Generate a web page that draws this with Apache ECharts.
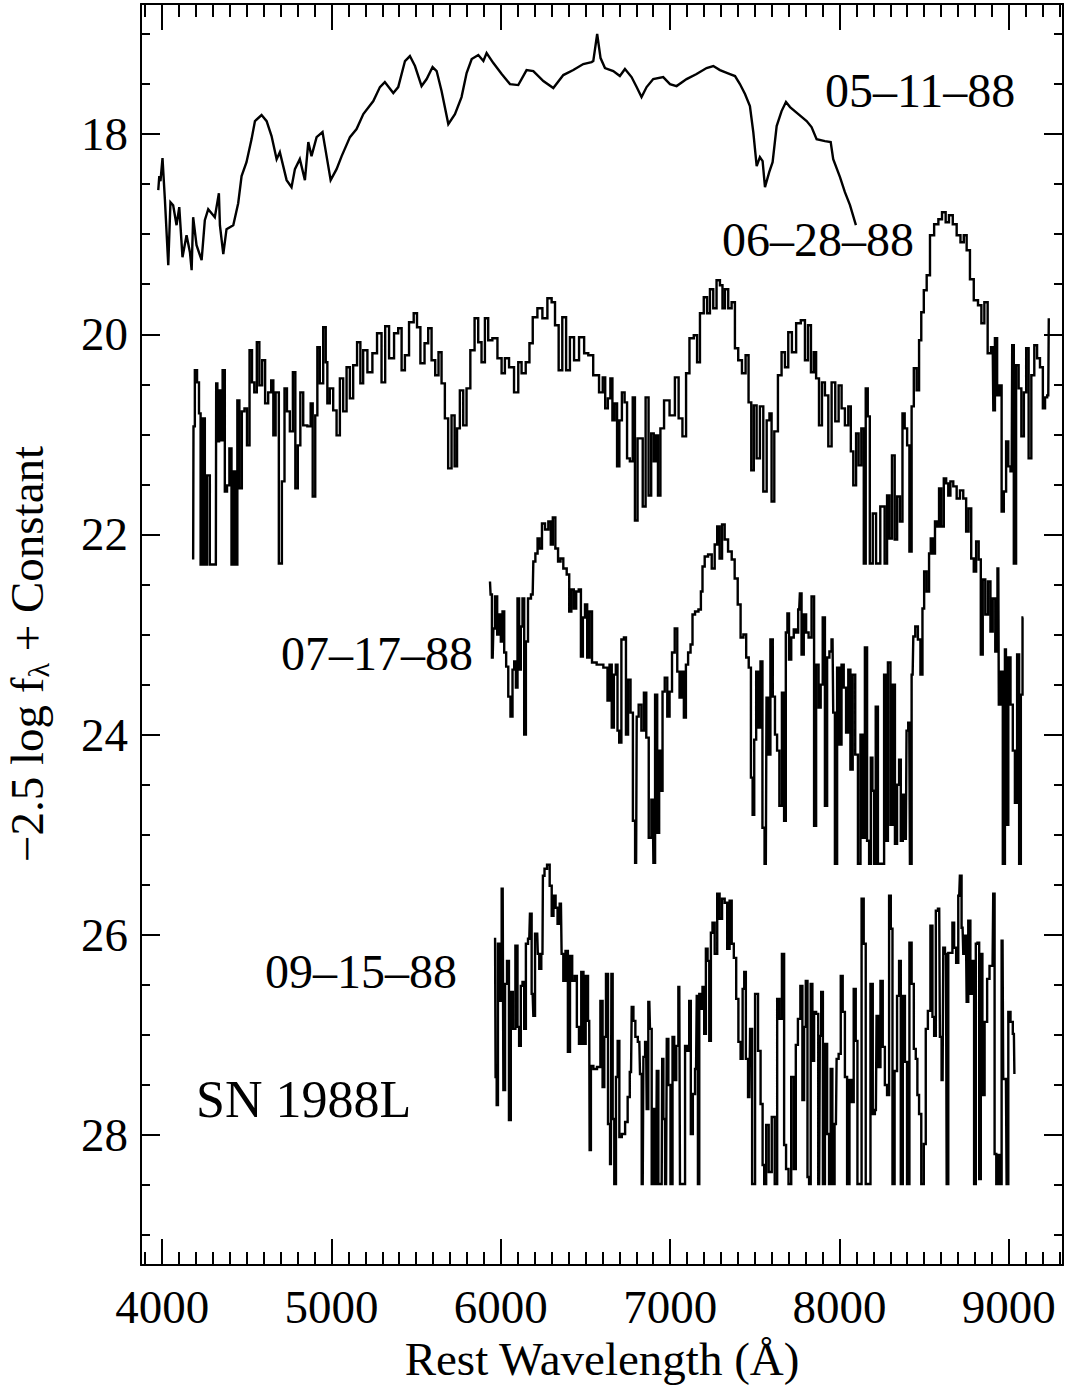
<!DOCTYPE html>
<html>
<head>
<meta charset="utf-8">
<script src="https://cdn.jsdelivr.net/npm/echarts@6/dist/echarts.min.js"></script>
<style>
html,body{margin:0;padding:0;background:#fff;}
#chart{width:1067px;height:1387px;}
</style>
</head>
<body>
<div id="chart"></div>
<script>
// ---------------- DATA (wavelength in Angstrom, magnitude) ----------------
const spec051188 = [[3977,18.56],[3983,18.42],[3990,18.47],[4002,18.24],[4016,18.65],[4036,19.31],[4049,18.68],[4065,18.71],[4085,18.91],[4101,18.73],[4120,19.23],[4144,19.01],[4164,19.18],[4174,19.36],[4183,18.83],[4203,19.11],[4233,19.26],[4252,18.86],[4272,18.75],[4311,18.83],[4335,18.59],[4341,18.91],[4361,19.20],[4380,18.95],[4420,18.91],[4449,18.69],[4469,18.42],[4498,18.28],[4528,18.05],[4548,17.87],[4587,17.81],[4617,17.87],[4646,18.02],[4676,18.25],[4695,18.18],[4735,18.46],[4764,18.53],[4784,18.35],[4813,18.25],[4843,18.46],[4863,18.08],[4882,18.22],[4912,18.03],[4947,17.98],[4961,18.12],[4995,18.46],[5030,18.35],[5060,18.22],[5109,18.03],[5148,17.95],[5188,17.80],[5247,17.67],[5286,17.53],[5315,17.48],[5365,17.59],[5394,17.53],[5434,17.27],[5463,17.22],[5493,17.32],[5532,17.52],[5562,17.45],[5597,17.33],[5621,17.37],[5650,17.57],[5690,17.90],[5729,17.80],[5768,17.63],[5798,17.39],[5828,17.25],[5867,17.21],[5897,17.27],[5916,17.19],[5956,17.29],[6005,17.40],[6054,17.50],[6103,17.51],[6152,17.36],[6192,17.37],[6251,17.47],[6310,17.54],[6369,17.41],[6428,17.36],[6487,17.30],[6536,17.28],[6546,17.27],[6569,17.00],[6589,17.24],[6615,17.34],[6664,17.37],[6703,17.42],[6733,17.35],[6772,17.43],[6802,17.53],[6831,17.63],[6861,17.53],[6900,17.45],[6959,17.43],[6999,17.50],[7038,17.52],[7097,17.45],[7156,17.40],[7215,17.34],[7255,17.32],[7294,17.36],[7353,17.40],[7383,17.42],[7412,17.50],[7442,17.60],[7471,17.72],[7491,17.98],[7511,18.32],[7530,18.23],[7546,18.27],[7560,18.53],[7585,18.38],[7605,18.28],[7629,17.92],[7658,17.77],[7684,17.68],[7708,17.73],[7757,17.80],[7806,17.87],[7835,17.93],[7865,18.05],[7914,18.07],[7948,18.08],[7963,18.25],[8003,18.43],[8032,18.58],[8062,18.71],[8097,18.91]];

const spec062888 = [[4183,22.25],[4187,20.92],[4199,20.36],[4213,20.48],[4222,20.79],[4232,22.30],[4246,20.84],[4258,22.30],[4272,21.41],[4291,22.30],[4317,22.30],[4321,20.49],[4331,21.07],[4341,20.56],[4350,21.06],[4364,20.36],[4376,21.57],[4390,21.51],[4404,21.14],[4415,22.30],[4429,21.37],[4439,22.30],[4449,20.66],[4463,21.54],[4478,20.77],[4494,20.74],[4508,21.11],[4524,20.16],[4537,20.48],[4551,20.58],[4567,20.08],[4581,20.51],[4600,20.26],[4616,20.69],[4636,20.58],[4652,20.46],[4661,21.01],[4679,20.58],[4699,22.29],[4715,21.47],[4730,20.54],[4744,20.77],[4764,20.97],[4780,20.38],[4793,21.54],[4809,21.11],[4823,20.58],[4843,20.91],[4872,20.92],[4882,20.69],[4896,21.62],[4912,20.81],[4921,20.13],[4941,20.49],[4961,19.93],[4971,20.28],[4980,20.69],[5000,20.54],[5020,20.76],[5040,21.01],[5059,20.44],[5079,20.77],[5099,20.33],[5118,20.64],[5138,20.31],[5164,20.08],[5177,20.49],[5197,20.16],[5227,20.38],[5256,20.19],[5282,19.99],[5309,20.48],[5325,19.92],[5355,20.24],[5384,19.99],[5404,19.94],[5424,20.36],[5443,20.21],[5473,19.88],[5498,19.79],[5512,19.93],[5538,20.29],[5561,20.09],[5581,19.94],[5601,20.26],[5624,20.41],[5640,20.18],[5660,20.49],[5679,20.84],[5699,21.34],[5719,20.81],[5735,21.32],[5748,20.94],[5768,20.56],[5788,20.91],[5807,20.54],[5833,20.16],[5857,19.84],[5876,20.08],[5896,20.28],[5916,19.84],[5935,20.06],[5965,20.04],[5995,20.24],[6014,20.39],[6034,20.24],[6063,20.33],[6093,20.58],[6113,20.28],[6132,20.39],[6162,20.28],[6176,20.09],[6201,19.83],[6231,19.74],[6260,19.84],[6290,19.64],[6310,19.68],[6330,19.91],[6353,20.36],[6373,19.83],[6398,20.36],[6418,20.03],[6447,20.26],[6477,20.03],[6507,20.19],[6526,20.21],[6565,20.41],[6595,20.58],[6609,20.43],[6624,20.74],[6640,20.64],[6654,20.44],[6664,20.86],[6680,20.69],[6693,21.32],[6707,20.86],[6723,20.58],[6739,20.68],[6752,21.24],[6772,21.27],[6786,20.63],[6798,21.86],[6817,21.04],[6831,21.04],[6845,21.72],[6865,20.63],[6880,21.61],[6896,20.99],[6910,21.27],[6920,21.01],[6936,21.61],[6949,20.94],[6979,20.66],[7014,20.81],[7042,20.43],[7058,20.84],[7087,21.02],[7101,20.39],[7127,20.04],[7152,20.01],[7166,20.28],[7186,19.79],[7211,19.63],[7225,19.79],[7245,19.55],[7264,19.74],[7284,19.46],[7304,19.51],[7314,19.74],[7333,19.55],[7353,19.74],[7373,19.68],[7392,20.14],[7412,20.26],[7436,20.39],[7455,20.21],[7471,20.68],[7487,21.36],[7501,20.71],[7520,21.24],[7540,20.72],[7560,21.57],[7580,20.86],[7593,20.79],[7605,21.67],[7625,20.97],[7648,20.41],[7668,20.18],[7688,20.33],[7707,19.98],[7731,20.18],[7757,19.89],[7786,19.86],[7806,20.26],[7822,19.91],[7841,20.38],[7855,20.18],[7869,20.44],[7889,20.91],[7904,20.48],[7924,20.61],[7944,21.12],[7963,20.48],[7987,20.87],[8003,20.51],[8022,20.74],[8042,20.91],[8062,20.72],[8072,21.17],[8091,21.51],[8105,20.99],[8121,21.31],[8137,20.94],[8150,22.29],[8160,20.54],[8174,20.82],[8184,22.29],[8209,21.79],[8223,22.29],[8259,21.72],[8274,22.29],[8288,21.61],[8302,22.04],[8318,21.21],[8334,22.05],[8347,21.62],[8367,21.87],[8377,20.79],[8393,20.94],[8406,21.11],[8420,22.17],[8432,20.72],[8446,20.34],[8465,20.56],[8475,20.06],[8491,19.78],[8505,19.56],[8525,19.41],[8544,19.01],[8574,18.90],[8594,18.85],[8617,18.78],[8637,18.88],[8656,18.81],[8682,18.90],[8702,19.01],[8727,19.08],[8741,19.01],[8761,19.16],[8780,19.45],[8806,19.66],[8830,19.71],[8846,19.89],[8865,19.68],[8885,20.19],[8905,20.13],[8912,20.76],[8924,20.04],[8938,20.61],[8951,20.51],[8964,21.77],[8977,21.57],[8991,21.07],[9003,21.32],[9017,21.37],[9023,20.11],[9036,22.29],[9050,20.31],[9066,20.54],[9082,21.02],[9096,20.58],[9109,20.14],[9125,21.24],[9141,20.41],[9160,20.11],[9174,20.24],[9194,20.33],[9208,20.74],[9220,20.63],[9233,20.61],[9239,19.84]];

const spec071788 = [[5936,22.47],[5943,22.60],[5952,23.23],[5960,22.94],[5972,22.62],[5985,23.00],[5995,22.80],[6005,23.07],[6015,22.77],[6025,23.18],[6038,23.32],[6050,23.62],[6064,23.82],[6074,23.35],[6084,23.27],[6094,23.53],[6103,22.64],[6113,23.35],[6123,22.92],[6133,22.64],[6143,24.00],[6153,23.07],[6168,22.64],[6188,22.60],[6196,22.27],[6212,22.19],[6222,22.04],[6235,22.14],[6251,21.89],[6271,21.95],[6290,21.87],[6300,22.10],[6314,21.83],[6330,22.14],[6346,22.27],[6359,22.24],[6379,22.34],[6399,22.40],[6409,22.77],[6424,22.55],[6438,22.74],[6452,22.57],[6468,22.55],[6478,23.22],[6491,22.83],[6503,22.70],[6517,23.23],[6531,22.77],[6546,23.28],[6586,23.30],[6625,23.33],[6635,23.66],[6649,23.30],[6661,23.93],[6674,23.40],[6684,23.30],[6694,23.96],[6704,24.08],[6720,23.05],[6734,23.03],[6744,24.00],[6759,23.45],[6773,23.78],[6787,24.86],[6799,25.28],[6806,23.82],[6822,23.70],[6838,23.96],[6852,23.58],[6866,24.03],[6881,25.03],[6897,24.65],[6905,25.28],[6917,23.60],[6930,24.98],[6940,24.16],[6950,24.56],[6960,23.57],[6976,23.43],[6990,23.82],[7003,23.57],[7019,23.18],[7035,22.94],[7049,23.37],[7062,23.63],[7074,23.37],[7088,23.83],[7098,23.30],[7114,23.18],[7127,23.10],[7137,22.80],[7157,22.77],[7177,22.75],[7186,22.57],[7196,22.32],[7212,22.22],[7236,22.20],[7255,22.34],[7271,22.10],[7285,21.92],[7299,22.24],[7314,21.90],[7330,22.05],[7354,22.17],[7373,22.25],[7389,22.44],[7409,22.70],[7423,23.03],[7442,23.00],[7456,23.23],[7472,23.33],[7482,24.43],[7492,24.80],[7501,24.05],[7515,23.37],[7527,23.93],[7540,23.27],[7550,24.93],[7565,25.29],[7573,23.63],[7585,24.20],[7599,23.05],[7613,23.62],[7625,24.00],[7638,24.16],[7652,24.71],[7668,23.58],[7678,24.86],[7688,22.98],[7697,22.79],[7707,23.25],[7723,23.03],[7737,22.95],[7750,22.98],[7762,22.75],[7770,22.59],[7782,23.20],[7796,22.80],[7810,22.98],[7825,23.03],[7845,22.62],[7855,24.91],[7869,23.30],[7884,23.73],[7894,23.50],[7908,22.83],[7920,24.71],[7934,23.23],[7947,23.17],[7959,23.05],[7967,23.78],[7979,25.29],[7993,23.33],[8006,24.10],[8018,23.30],[8032,23.53],[8046,23.98],[8058,23.35],[8071,24.35],[8085,23.40],[8101,24.20],[8117,25.29],[8131,24.00],[8144,25.03],[8156,23.13],[8170,25.06],[8180,25.29],[8190,24.23],[8199,24.56],[8209,25.29],[8219,23.72],[8235,25.29],[8259,25.29],[8268,23.40],[8278,25.06],[8294,23.28],[8308,24.90],[8322,23.50],[8333,25.09],[8347,24.50],[8357,24.25],[8367,25.06],[8381,24.60],[8392,25.04],[8400,23.96],[8412,23.88],[8420,25.29],[8432,23.40],[8440,23.02],[8455,22.92],[8471,23.05],[8485,23.40],[8495,22.74],[8505,22.37],[8524,22.57],[8534,22.19],[8544,22.04],[8558,22.19],[8570,21.87],[8583,21.92],[8593,21.54],[8609,21.92],[8623,21.44],[8637,21.49],[8648,21.61],[8662,21.47],[8682,21.52],[8702,21.64],[8721,21.56],[8741,21.64],[8755,21.97],[8770,21.74],[8786,22.24],[8800,22.37],[8814,22.07],[8830,22.25],[8839,23.20],[8853,22.45],[8869,22.80],[8885,22.47],[8898,22.97],[8912,22.64],[8928,23.17],[8938,22.34],[8944,23.70],[8958,23.37],[8971,25.29],[8983,23.15],[8991,24.90],[9003,23.23],[9017,23.70],[9030,24.16],[9042,24.68],[9056,23.20],[9066,25.29],[9076,23.60],[9086,22.83]];

const spec091588 = [[5966,26.03],[5972,27.42],[5979,27.70],[5987,26.09],[5999,26.66],[6011,25.54],[6019,27.55],[6031,26.49],[6042,26.26],[6054,27.85],[6064,26.57],[6078,26.94],[6094,26.11],[6103,26.92],[6113,27.11],[6123,26.51],[6133,26.47],[6143,26.94],[6153,26.09],[6168,26.04],[6176,25.79],[6188,26.59],[6196,26.81],[6208,25.99],[6215,25.99],[6222,26.19],[6232,26.34],[6246,26.19],[6251,25.41],[6265,25.34],[6281,25.30],[6296,25.51],[6305,25.81],[6317,25.61],[6330,25.73],[6340,25.89],[6355,25.69],[6363,26.19],[6375,26.46],[6389,26.16],[6403,27.17],[6414,26.21],[6429,26.46],[6443,26.41],[6455,26.92],[6468,27.09],[6482,26.37],[6494,27.09],[6508,26.41],[6522,26.86],[6527,28.15],[6537,27.31],[6556,27.34],[6580,27.32],[6596,26.66],[6606,27.52],[6616,27.02],[6626,26.39],[6640,27.89],[6650,28.29],[6656,26.39],[6665,27.84],[6675,28.49],[6685,27.42],[6695,27.06],[6705,28.02],[6724,27.99],[6744,27.87],[6754,27.62],[6769,27.37],[6777,26.72],[6789,26.86],[6800,27.02],[6818,27.07],[6826,27.39],[6838,28.49],[6846,27.22],[6858,27.07],[6865,27.74],[6877,26.67],[6885,26.94],[6897,28.49],[6905,27.74],[6917,28.49],[6925,27.36],[6936,28.49],[6950,28.49],[6956,27.24],[6964,27.84],[6976,28.49],[6984,27.04],[6995,27.50],[7009,28.49],[7019,27.02],[7029,27.45],[7043,27.11],[7054,26.52],[7062,28.49],[7082,28.49],[7094,27.11],[7108,27.16],[7117,26.66],[7127,27.99],[7141,27.59],[7153,27.34],[7161,26.61],[7167,28.49],[7177,26.59],[7186,26.74],[7196,26.52],[7206,26.99],[7216,26.14],[7226,26.26],[7236,27.06],[7245,25.98],[7255,25.88],[7271,26.19],[7285,25.59],[7299,25.84],[7314,25.64],[7330,25.68],[7344,26.14],[7358,25.66],[7369,26.09],[7383,26.23],[7397,26.64],[7409,27.07],[7423,27.24],[7433,26.54],[7442,26.37],[7452,27.24],[7468,27.62],[7476,26.94],[7492,28.49],[7511,26.59],[7527,27.16],[7541,27.69],[7551,28.30],[7560,28.49],[7574,27.90],[7590,28.37],[7610,27.82],[7625,28.49],[7639,26.64],[7652,26.84],[7668,26.19],[7678,28.10],[7691,28.34],[7707,28.49],[7723,27.42],[7737,28.34],[7747,27.10],[7762,26.84],[7776,26.51],[7786,27.65],[7796,26.92],[7806,26.46],[7816,28.42],[7825,28.49],[7835,26.49],[7845,27.26],[7855,26.77],[7869,26.79],[7880,28.49],[7888,27.01],[7896,26.57],[7908,28.49],[7920,27.09],[7934,27.99],[7943,28.49],[7953,27.34],[7963,28.49],[7979,27.89],[7987,27.24],[8003,27.19],[8012,26.41],[8026,26.77],[8038,27.42],[8052,28.49],[8066,27.45],[8077,27.67],[8091,26.54],[8101,27.06],[8111,28.49],[8125,28.49],[8136,25.64],[8150,26.09],[8160,28.49],[8176,28.49],[8190,26.49],[8203,27.79],[8215,27.75],[8223,26.81],[8235,27.32],[8249,26.46],[8262,27.12],[8274,27.50],[8288,27.60],[8298,25.61],[8308,25.94],[8318,28.49],[8333,27.36],[8347,26.61],[8357,26.26],[8367,28.49],[8381,26.61],[8392,27.27],[8406,28.49],[8420,26.08],[8432,26.49],[8446,27.14],[8455,27.24],[8465,27.60],[8475,27.79],[8491,28.49],[8505,28.09],[8514,26.94],[8530,26.76],[8544,25.91],[8554,26.82],[8564,27.01],[8574,25.76],[8589,25.74],[8597,27.02],[8609,27.45],[8617,26.13],[8629,26.19],[8637,28.49],[8648,26.18],[8662,26.18],[8672,25.88],[8682,26.13],[8696,26.28],[8707,25.61],[8715,25.41],[8727,25.93],[8735,26.19],[8747,26.01],[8755,26.67],[8766,25.86],[8780,26.59],[8790,26.26],[8800,28.49],[8810,26.09],[8820,26.08],[8830,28.44],[8839,26.19],[8849,27.60],[8865,26.87],[8879,26.44],[8893,26.31],[8904,26.31],[8912,25.59],[8920,28.19],[8932,28.49],[8944,28.20],[8952,28.49],[8963,26.06],[8971,27.44],[8983,27.44],[8991,28.49],[9003,26.77],[9017,26.87],[9030,26.99],[9036,27.39]];

// ---------------- AXES / TICKS ----------------
const xRange = [3875, 9320];
const yRange = [16.7, 29.3];
const xMajorTicks = [4000, 5000, 6000, 7000, 8000, 9000];
const xMinorTicks = [3900,4000,4100,4200,4300,4400,4500,4600,4700,4800,4900,5000,5100,5200,5300,5400,5500,5600,5700,5800,5900,6000,6100,6200,6300,6400,6500,6600,6700,6800,6900,7000,7100,7200,7300,7400,7500,7600,7700,7800,7900,8000,8100,8200,8300,8400,8500,8600,8700,8800,8900,9000,9100,9200,9300];
const yMajorTicks = [18, 20, 22, 24, 26, 28];
const yMinorTicks = [17,17.5,18,18.5,19,19.5,20,20.5,21,21.5,22,22.5,23,23.5,24,24.5,25,25.5,26,26.5,27,27.5,28,28.5,29];

const spectrumLabels = ['05–11–88', '06–28–88', '07–17–88', '09–15–88'];
const objectLabel = 'SN 1988L';
const xTitle = 'Rest Wavelength (Å)';

// ---------------- CHART ----------------
const FONT = '"Liberation Serif", "Times New Roman", serif';
const chart = echarts.init(document.getElementById('chart'), null, {renderer: 'svg'});

function xAx(pos, ticks, len, withLine, withLabels) {
  return {
    type: 'value', position: pos, min: xRange[0], max: xRange[1],
    axisLine: {show: withLine, onZero: false, lineStyle: {color: '#000', width: 2}},
    axisTick: {show: true, inside: true, length: len, customValues: ticks, lineStyle: {color: '#000', width: 2}},
    axisLabel: withLabels ? {show: true, customValues: xMajorTicks, formatter: (v) => String(v), fontFamily: FONT, fontSize: 47, color: '#000', margin: 18} : {show: false},
    splitLine: {show: false}
  };
}
function yAx(pos, ticks, len, withLine, withLabels) {
  return {
    type: 'value', position: pos, min: yRange[0], max: yRange[1], inverse: true,
    axisLine: {show: withLine, onZero: false, lineStyle: {color: '#000', width: 2}},
    axisTick: {show: true, inside: true, length: len, customValues: ticks, lineStyle: {color: '#000', width: 2}},
    axisLabel: withLabels ? {show: true, customValues: yMajorTicks, formatter: (v) => String(v), fontFamily: FONT, fontSize: 47, color: '#000', margin: 13} : {show: false},
    splitLine: {show: false}
  };
}

const xAxes = [
  xAx('bottom', xMajorTicks, 26, true, true),
  xAx('bottom', xMinorTicks, 13, false, false),
  xAx('top', xMajorTicks, 26, true, false),
  xAx('top', xMinorTicks, 13, false, false)
];
xAxes[0].name = xTitle;
xAxes[0].nameLocation = 'middle';
xAxes[0].nameGap = 68;
xAxes[0].nameTextStyle = {fontFamily: FONT, fontSize: 47, color: '#000'};

const yAxes = [
  yAx('left', yMajorTicks, 19, true, true),
  yAx('left', yMinorTicks, 9, false, false),
  yAx('right', yMajorTicks, 19, true, false),
  yAx('right', yMinorTicks, 9, false, false)
];

function spec(data, step) {
  return {
    type: 'line', data: data, xAxisIndex: 0, yAxisIndex: 0,
    step: step ? 'middle' : false, showSymbol: false, symbol: 'none',
    lineStyle: {color: '#000', width: 2.4, join: 'miter'},
    silent: true, animation: false
  };
}

const textStyle = (size) => ({font: size + 'px ' + FONT, fill: '#000'});

const option = {
  animation: false,
  backgroundColor: '#fff',
  grid: {left: 141, top: 4, width: 922, height: 1263, containLabel: false},
  xAxis: xAxes,
  yAxis: yAxes,
  series: [
    spec(spec051188, false),
    spec(spec062888, true),
    spec(spec071788, true),
    spec(spec091588, true)
  ],
  graphic: [
    {type: 'text', x: 825, y: 90, style: Object.assign({text: spectrumLabels[0], align: 'left', verticalAlign: 'middle'}, textStyle(48))},
    {type: 'text', x: 722, y: 239, style: Object.assign({text: spectrumLabels[1], align: 'left', verticalAlign: 'middle'}, textStyle(48))},
    {type: 'text', x: 281, y: 653, style: Object.assign({text: spectrumLabels[2], align: 'left', verticalAlign: 'middle'}, textStyle(48))},
    {type: 'text', x: 265, y: 971, style: Object.assign({text: spectrumLabels[3], align: 'left', verticalAlign: 'middle'}, textStyle(48))},
    {type: 'text', x: 196, y: 1099, style: Object.assign({text: objectLabel, align: 'left', verticalAlign: 'middle'}, textStyle(52))},
    {type: 'text', x: 27, y: 654, rotation: Math.PI / 2,
      style: {
        text: '−2.5 log f{sub|λ} + Constant',
        font: '47px ' + FONT, fill: '#000', align: 'center', verticalAlign: 'middle',
        lineHeight: 52,
        rich: {sub: {fontSize: 30, fontFamily: FONT, lineHeight: 30, verticalAlign: 'bottom', fill: '#000'}}
      }
    }
  ]
};
chart.setOption(option);
</script>
</body>
</html>
